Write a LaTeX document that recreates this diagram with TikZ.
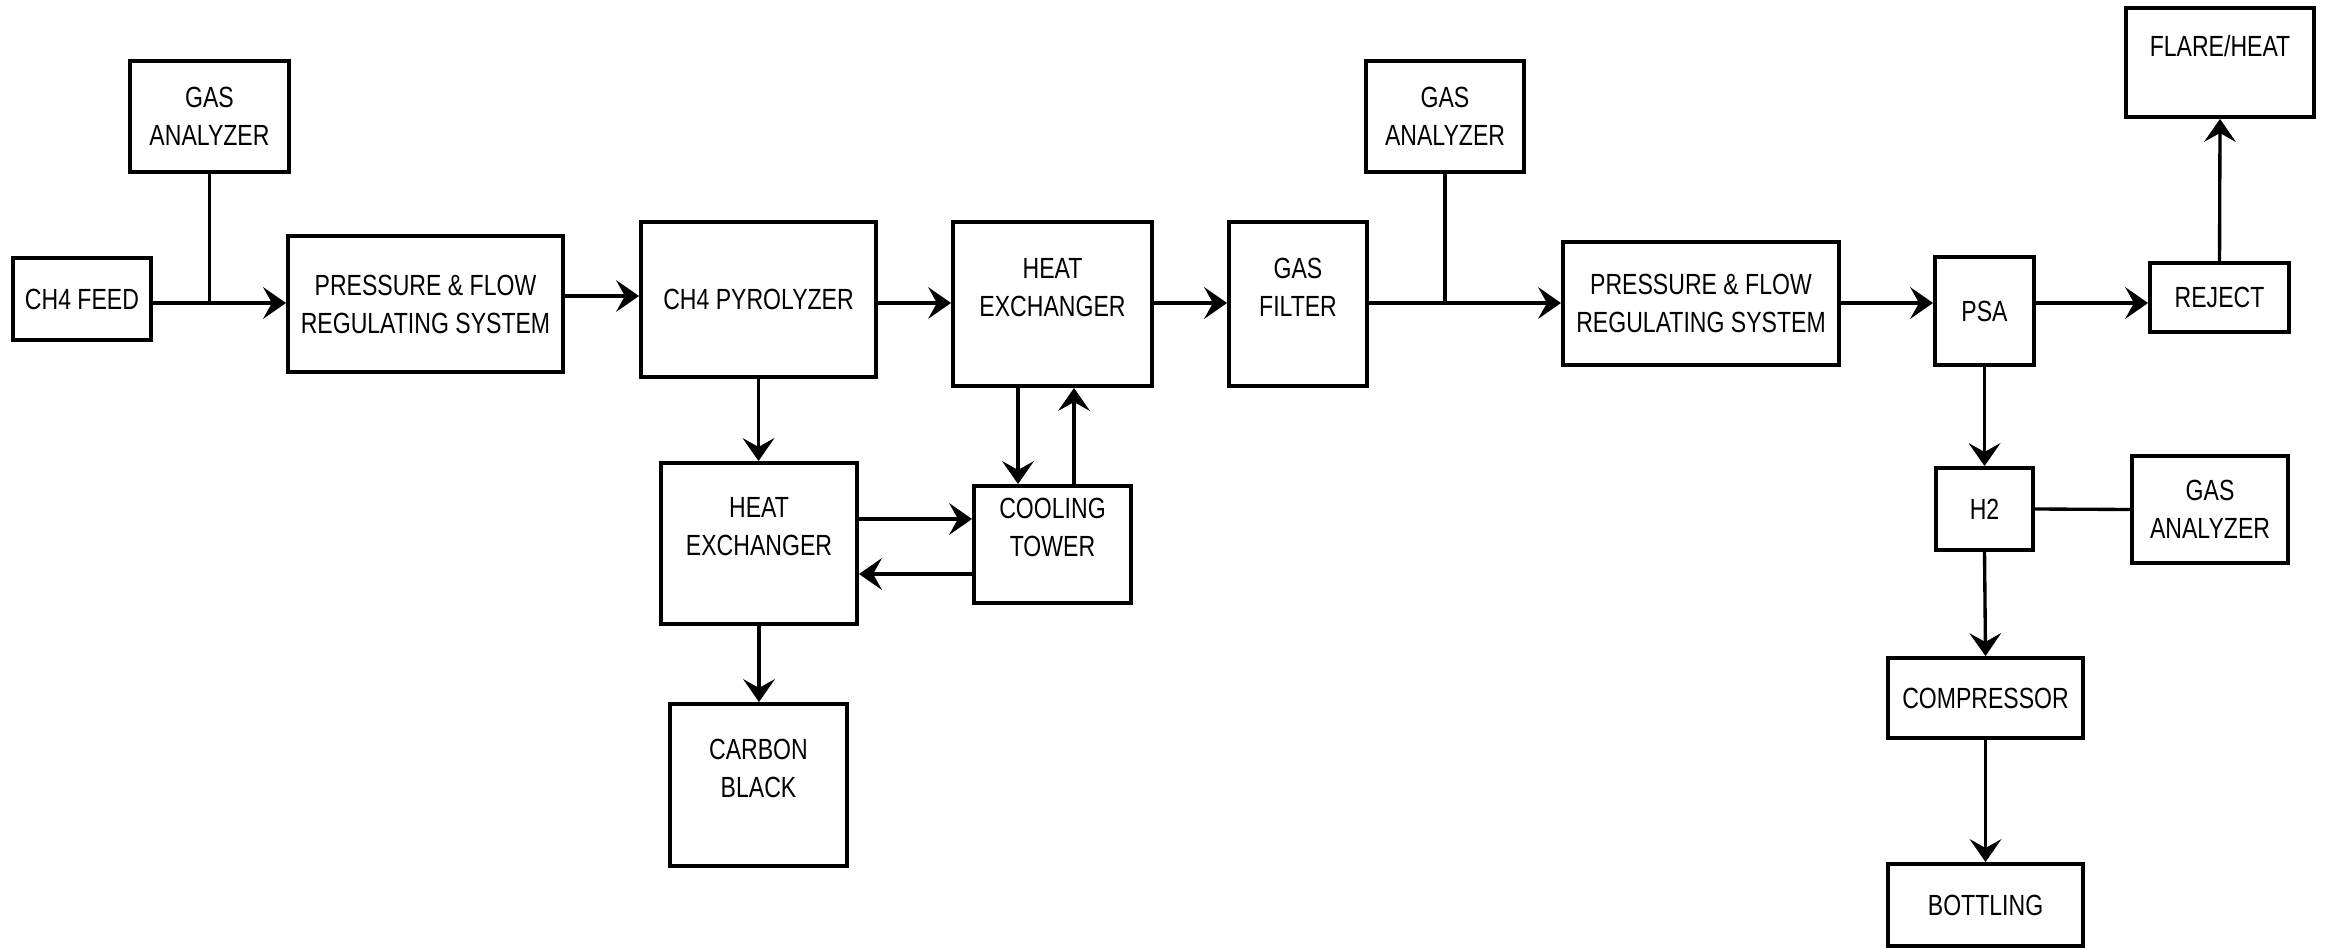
\documentclass[tikz,border=0pt]{standalone}
\usepackage{fontspec}
\newfontfamily\diagfont[FakeStretch=0.79]{Liberation Sans}
\usetikzlibrary{arrows.meta}
\begin{document}
\begin{tikzpicture}[x=0.01cm,y=-0.01cm,
  box/.style={draw=black, line width=1.1pt, align=center, inner sep=0pt,
    font=\diagfont\fontsize{8.3}{10.8}\selectfont},
  up/.style={text depth=9.5pt},
  conn/.style={draw=black, line width=0.95pt},
  arr/.style={conn, -{Stealth[length=6.5pt, width=9pt, inset=2.5pt]}}]
\useasboundingbox (0,0) rectangle (2325,949);
% nodes
\node[box, minimum width=1.38cm, minimum height=0.82cm] (feed) at (82,299) {CH4 FEED};
\node[box, minimum width=1.59cm, minimum height=1.11cm] (ga1) at (209.5,116.5) {GAS\\ANALYZER};
\node[box, minimum width=2.75cm, minimum height=1.36cm] (pfr1) at (425.5,304) {PRESSURE \& FLOW\\REGULATING SYSTEM};
\node[box, minimum width=2.35cm, minimum height=1.55cm] (pyro) at (758.5,299.5) {CH4 PYROLYZER};
\node[box, up, minimum width=1.99cm, minimum height=1.64cm] (hx1) at (1052.5,304) {HEAT\\EXCHANGER};
\node[box, up, minimum width=1.38cm, minimum height=1.64cm] (gf) at (1298,304) {GAS\\FILTER};
\node[box, minimum width=1.58cm, minimum height=1.11cm] (ga2) at (1445,116.5) {GAS\\ANALYZER};
\node[box, minimum width=2.76cm, minimum height=1.23cm] (pfr2) at (1701,303.5) {PRESSURE \& FLOW\\REGULATING SYSTEM};
\node[box, minimum width=0.99cm, minimum height=1.08cm] (psa) at (1984.5,311) {PSA};
\node[box, minimum width=1.39cm, minimum height=0.69cm] (reject) at (2219.5,297.5) {REJECT};
\node[box, up, minimum width=1.88cm, minimum height=1.09cm] (flare) at (2220,62.5) {FLARE/HEAT};
\node[box, minimum width=0.97cm, minimum height=0.82cm] (h2) at (1984.5,509) {H2};
\node[box, minimum width=1.56cm, minimum height=1.07cm] (ga3) at (2210,509.5) {GAS\\ANALYZER};
\node[box, minimum width=1.95cm, minimum height=0.80cm] (comp) at (1985.5,698) {COMPRESSOR};
\node[box, minimum width=1.95cm, minimum height=0.82cm] (bott) at (1985.5,905) {BOTTLING};
\node[box, up, minimum width=1.96cm, minimum height=1.61cm] (hx2) at (759,543.5) {HEAT\\EXCHANGER};
\node[box, up, minimum width=1.57cm, minimum height=1.17cm] (ct) at (1052.5,544.5) {COOLING\\TOWER};
\node[box, up, minimum width=1.77cm, minimum height=1.62cm] (cb) at (758.5,785) {CARBON\\BLACK};
% reference levels
\coordinate (main) at (0,303);
\coordinate (main2) at (0,296);
\coordinate (hxa) at (0,519);
\coordinate (hxb) at (0,574);
\coordinate (cxa) at (1018,0);
\coordinate (cxb) at (1074,0);
% connectors
\draw[arr] (feed.east |- main) -- (pfr1.west |- main);
\draw[conn] (ga1.south) -- (ga1.south |- main);
\draw[arr] (pfr1.east |- main2) -- (pyro.west |- main2);
\draw[arr] (pyro.east |- main) -- (hx1.west |- main);
\draw[arr] (hx1.east |- main) -- (gf.west |- main);
\draw[arr] (gf.east |- main) -- (pfr2.west |- main);
\draw[conn] (ga2.south) -- (ga2.south |- main);
\draw[arr] (pfr2.east |- main) -- (psa.west |- main);
\draw[arr] (psa.east |- main) -- (reject.west |- main);
\draw[arr] (reject.north) -- (flare.south);
\draw[arr] (psa.south) -- (h2.north);
\draw[conn] (h2.east) -- (ga3.west);
\draw[arr] (h2.south) -- (comp.north);
\draw[arr] (comp.south) -- (bott.north);
\draw[arr] (pyro.south) -- (pyro.south |- hx2.north);
\draw[arr] (hx2.south) -- (hx2.south |- cb.north);
\draw[arr] (hx1.south -| cxa) -- (ct.north -| cxa);
\draw[arr] (ct.north -| cxb) -- (hx1.south -| cxb);
\draw[arr] (hx2.east |- hxa) -- (ct.west |- hxa);
\draw[arr] (ct.west |- hxb) -- (hx2.east |- hxb);
\end{tikzpicture}
\end{document}
